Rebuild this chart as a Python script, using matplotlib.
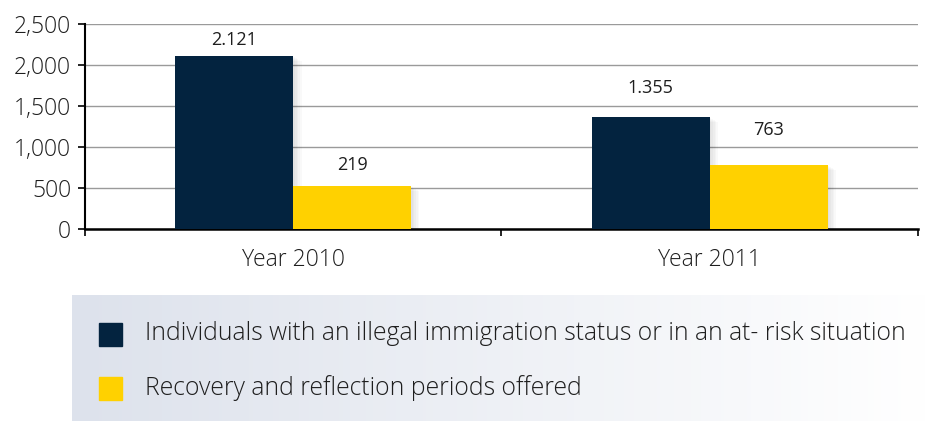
import numpy as np
import matplotlib.pyplot as plt
from matplotlib.patches import Rectangle
from matplotlib.colors import LinearSegmentedColormap

# chart data
categories = ['Year 2010', 'Year 2011']
individuals = [2110, 1365]
recovery = [522, 775]
individuals_labels = ['2.121', '1.355']
recovery_labels = ['219', '763']
series_names = ['Individuals with an illegal immigration status or in an at- risk situation',
                'Recovery and reflection periods offered']

navy = '#03233f'
yellow = '#ffd100'
txt = '#1e1e1e'
plt.rcParams['font.family'] = ['Open Sans', 'DejaVu Sans']

fig = plt.figure(figsize=(9.28, 4.21), dpi=100)

# legend panel with soft gradient background (pixel coordinates inside the panel)
lw_px, lh_px = 928 - 72, 126
lax = fig.add_axes([72 / 928, 0, lw_px / 928, lh_px / 421])
grad = np.linspace(0, 1, 256).reshape(1, -1)
cmap = LinearSegmentedColormap.from_list('g', ['#dde2ec', '#ffffff'])
lax.imshow(grad, extent=[0, lw_px, 0, lh_px], aspect='auto', cmap=cmap)
lax.set_xlim(0, lw_px)
lax.set_ylim(lh_px, 0)
lax.axis('off')
for i, (name, col) in enumerate(zip(series_names, [navy, yellow])):
    yc = 39 + i * 54
    lax.add_patch(Rectangle((27, yc - 11.5), 23, 23, color=col))
    lax.text(73, yc, name, va='center', ha='left', fontsize=17.8, color=txt, fontweight='light')

# main bar chart
ax = fig.add_axes([85 / 928, 1 - 229 / 421, (918 - 85) / 928, 205 / 421])
x = np.arange(len(categories))
w = 0.283
b1 = ax.bar(x - w / 2, individuals, w, color=navy, zorder=3)
b2 = ax.bar(x + w / 2, recovery, w, color=yellow, zorder=3)

# soft shadow behind bars
for bars in (b1, b2):
    for r in bars:
        for k in range(1, 6):
            ax.add_patch(Rectangle((r.get_x() + 0.004 * k, 0), r.get_width(), r.get_height() - 12 * k,
                                   color='black', alpha=0.025, zorder=2, lw=0))

offsets = [[16, 29], [21, 35]]
for i in range(len(categories)):
    ax.annotate(individuals_labels[i], (x[i] - w / 2, individuals[i]), xytext=(0, offsets[0][i]),
                textcoords='offset pixels', ha='center', va='center', fontsize=13, color=txt)
    ax.annotate(recovery_labels[i], (x[i] + w / 2, recovery[i]), xytext=(0, offsets[1][i]),
                textcoords='offset pixels', ha='center', va='center', fontsize=13, color=txt)

ax.set_xlim(-0.5, 1.5)
ax.set_ylim(0, 2500)
ax.set_yticks([0, 500, 1000, 1500, 2000, 2500])
ax.set_yticklabels(['0', '500', '1,000', '1,500', '2,000', '2,500'])
ax.yaxis.grid(True, color='#9a9a9a', lw=1, zorder=1)
ax.set_axisbelow(True)
ax.set_xticks([-0.5, 0.5, 1.5])
ax.set_xticklabels([])
ax.set_xticks(x, minor=True)
ax.set_xticklabels(categories, minor=True)
ax.tick_params(axis='x', which='minor', length=0, pad=14, labelsize=16.5)
ax.tick_params(axis='x', which='major', length=5, width=1.2)
ax.tick_params(axis='y', length=5, width=1.2, labelsize=16.5, pad=5)
for lbl in ax.get_yticklabels() + ax.get_xticklabels(minor=True):
    lbl.set_fontweight('light')
    lbl.set_color(txt)
for s in ['top', 'right']:
    ax.spines[s].set_visible(False)
ax.spines['left'].set_linewidth(1.5)
ax.spines['bottom'].set_linewidth(1.8)

fig.savefig('out.png', dpi=100)
